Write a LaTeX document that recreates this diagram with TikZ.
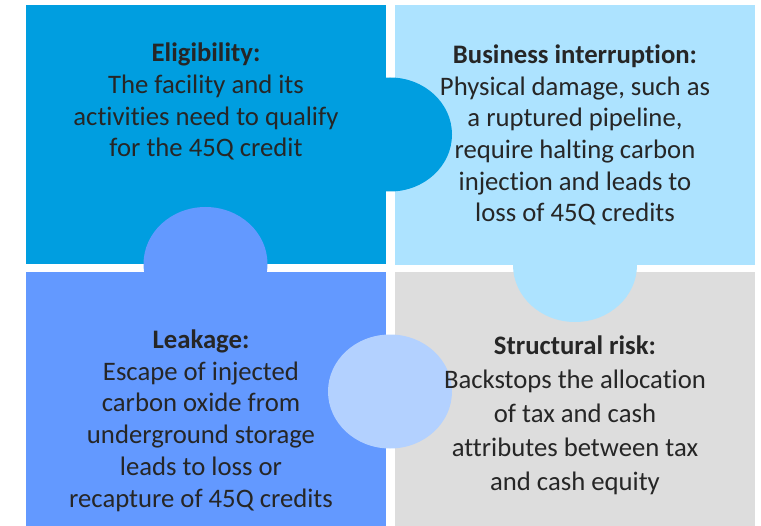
\documentclass[tikz,border=0pt]{standalone}
\usepackage{fontspec}
\setmainfont{Carlito}[Ligatures=CommonOff]
\definecolor{cTL}{RGB}{0,158,224}
\definecolor{cTR}{RGB}{173,227,255}
\definecolor{cBL}{RGB}{99,153,255}
\definecolor{cBR}{RGB}{221,221,221}
\definecolor{cLC}{RGB}{179,209,255}
\definecolor{ctxt}{RGB}{38,38,38}
\begin{document}
\begin{tikzpicture}[x=1bp,y=-1bp,
  txt/.style={text=ctxt,align=center,inner sep=0pt,anchor=base,
    font=\fontsize{26.8}{31.8}\selectfont},
  knob/.style={x radius=62bp,y radius=57bp}]
\useasboundingbox (0,0) rectangle (761,526);
% pieces
\fill[cTL] (26,5) rectangle (386,264);
\fill[cTR] (395,5) rectangle (755,265);
\fill[cBL] (26,272) rectangle (386,526);
\fill[cBR] (395,272) rectangle (755,526);
% knobs
\fill[cTL] (390,134.5) ellipse [knob];
\fill[cBL] (205.5,264) ellipse [knob];
\fill[cTR] (575,265) ellipse [knob];
\fill[cLC] (390,391.5) ellipse [knob];
% texts (anchor = baseline of the last line)
\node[txt] (tl) at (206,157) {\textbf{Eligibility:}\\The facility and its\\activities need to qualify\\for the 45Q credit};
\node[txt] (tr) at (575,222) {\textbf{Business interruption:}\\Physical damage, such as\\a ruptured pipeline,\\require halting carbon\\injection and leads to\\loss of 45Q credits};
\node[txt] (bl) at (201,507) {\textbf{Leakage:}\\Escape of injected\\carbon oxide from\\underground storage\\leads to loss or\\recapture of 45Q credits};
\node[txt,font=\fontsize{26.8}{34}\selectfont] (br) at (575,490) {\textbf{Structural risk:}\\Backstops the allocation\\of tax and cash\\attributes between tax\\and cash equity};
\end{tikzpicture}
\end{document}
